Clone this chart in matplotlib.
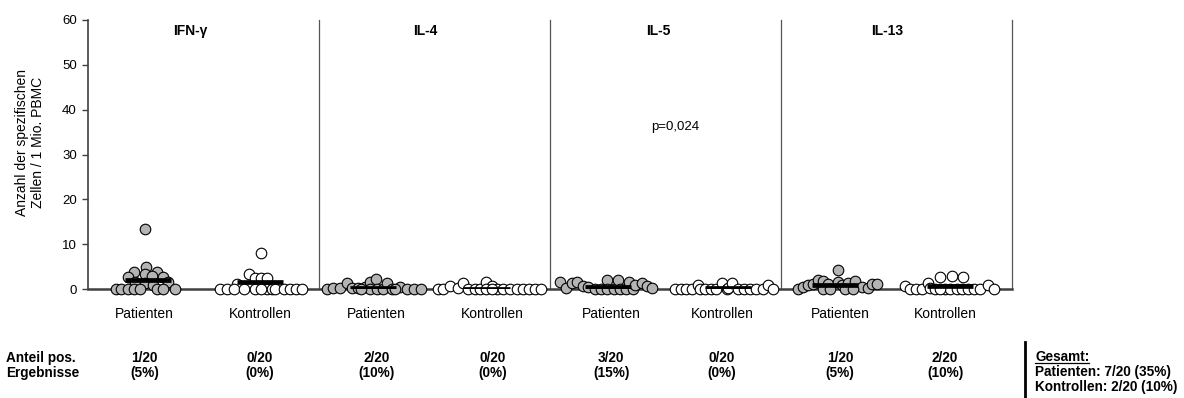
import matplotlib.pyplot as plt
from matplotlib.lines import Line2D

plt.rcParams['font.family'] = ['Liberation Sans', 'DejaVu Sans']

# Zytokine und Gruppen
zytokine = ["IFN-γ", "IL-4", "IL-5", "IL-13"]
gruppen = ["Patienten", "Kontrollen"]

# Einzelwerte (Spots / 1 Mio. PBMC), x = Streuposition im Dotplot
ifn_pat_x = [0.49, 0.50, 0.40, 0.60, 0.49, 0.55, 0.35, 0.65, 0.41, 0.49,
             0.56, 0.69, 0.24, 0.29, 0.35, 0.40, 0.45, 0.60, 0.65, 0.75]
ifn_pat_y = [13.3, 5.0, 3.7, 3.7, 3.4, 2.9, 2.7, 2.7, 1.6, 1.3,
             1.0, 1.6, 0, 0, 0, 0, 0, 0, 0, 0]
ifn_kon_x = [1.50, 1.39, 1.45, 1.50, 1.55, 1.29, 1.64, 1.14, 1.20, 1.26,
             1.35, 1.45, 1.55, 1.59, 1.62, 1.70, 1.75, 1.80, 1.85, 1.50]
ifn_kon_y = [8.0, 3.3, 2.5, 2.5, 2.5, 1.1, 0.5, 0, 0, 0,
             0, 0, 0, 0, 0, 0, 0, 0, 0, 0]

il4_pat_x = [2.07, 2.12, 2.18, 2.24, 2.29, 2.34, 2.40, 2.44, 2.49, 2.44,
             2.50, 2.55, 2.59, 2.63, 2.70, 2.76, 2.82, 2.88, 2.36, 2.66]
il4_pat_y = [0, 0.2, 0.3, 1.3, 0.2, 0.2, 0.5, 1.6, 2.2, 0,
             0, 0, 1.3, 0, 0.5, 0, 0, 0, 0, 0]
il4_kon_x = [3.03, 3.07, 3.13, 3.20, 3.25, 3.29, 3.35, 3.39, 3.45, 3.50,
             3.54, 3.59, 3.65, 3.71, 3.77, 3.82, 3.87, 3.92, 3.45, 3.50]
il4_kon_y = [0, 0, 0.6, 0.3, 1.3, 0, 0, 0, 1.6, 0.7,
             0, 0, 0, 0, 0, 0, 0, 0, 0, 0]

il5_pat_x = [4.09, 4.14, 4.19, 4.23, 4.29, 4.33, 4.39, 4.44, 4.49, 4.49,
             4.55, 4.59, 4.61, 4.66, 4.68, 4.72, 4.74, 4.80, 4.84, 4.88]
il5_pat_y = [1.6, 0.2, 1.3, 1.6, 0.6, 0.5, 0, 0, 2.0, 0,
             0, 2.0, 0, 0, 1.6, 0, 0.9, 1.3, 0.7, 0.2]
il5_kon_x = [5.08, 5.13, 5.18, 5.23, 5.28, 5.30, 5.34, 5.39, 5.44, 5.49,
             5.53, 5.54, 5.58, 5.63, 5.68, 5.73, 5.78, 5.84, 5.89, 5.93]
il5_kon_y = [0, 0, 0, 0.1, 0.8, 0, 0, 0, 0, 1.3,
             0, 0.3, 1.3, 0, 0, 0, 0, 0, 0.8, 0]

il13_pat_x = [6.15, 6.19, 6.23, 6.28, 6.32, 6.36, 6.41, 6.49, 6.49, 6.53,
              6.58, 6.64, 6.70, 6.75, 6.79, 6.83, 6.36, 6.42, 6.55, 6.62]
il13_pat_y = [0, 0.5, 0.8, 1.2, 2.0, 1.8, 1.2, 4.2, 1.5, 0.9,
              1.4, 1.8, 0.4, 0.2, 1.1, 1.1, 0, 0, 0, 0]
il13_kon_x = [7.07, 7.12, 7.17, 7.22, 7.27, 7.29, 7.33, 7.38, 7.42, 7.46,
              7.48, 7.52, 7.57, 7.58, 7.62, 7.67, 7.72, 7.79, 7.84, 7.38]
il13_kon_y = [0.6, 0, 0, 0, 1.3, 0.2, 0, 2.6, 0, 0,
              3.0, 0, 0, 2.6, 0, 0, 0, 0.8, 0, 0]

# Mediane je Gruppe
median_pat = [2.0, 0.3, 0.5, 1.0]
median_kon = [1.5, 0.1, 0.3, 0.6]
median_pat_von = [0.32, 2.27, 4.30, 6.27]
median_kon_von = [1.29, 3.25, 5.34, 7.26]
median_breite = 0.40

# Beschriftung unten: positive Ergebnisse je Gruppe
tick_pos = [0.49, 1.49, 2.50, 3.50, 4.53, 5.49, 6.51, 7.42]
positiv = [1, 0, 2, 0, 3, 0, 1, 2]
prozent = [5, 0, 10, 0, 15, 0, 5, 10]
titel_pos = [0.89, 2.92, 4.94, 6.92]

pat_x = [ifn_pat_x, il4_pat_x, il5_pat_x, il13_pat_x]
pat_y = [ifn_pat_y, il4_pat_y, il5_pat_y, il13_pat_y]
kon_x = [ifn_kon_x, il4_kon_x, il5_kon_x, il13_kon_x]
kon_y = [ifn_kon_y, il4_kon_y, il5_kon_y, il13_kon_y]

fig = plt.figure(figsize=(11.84, 3.98), dpi=100)
ax = fig.add_axes([88 / 1184, 1 - 289 / 398, 924 / 1184, 269 / 398])

dunkel = "#404040"
for i in range(4):
    ax.scatter(pat_x[i], pat_y[i], s=58, facecolor="#b4b4b4", edgecolor="black",
               linewidth=0.8, zorder=3, clip_on=False)
    ax.scatter(kon_x[i], kon_y[i], s=58, facecolor="white", edgecolor="black",
               linewidth=0.8, zorder=3, clip_on=False)
    ax.plot([median_pat_von[i], median_pat_von[i] + median_breite],
            [median_pat[i]] * 2, color="black", lw=3.4, zorder=4,
            solid_capstyle="butt")
    ax.plot([median_kon_von[i], median_kon_von[i] + median_breite],
            [median_kon[i]] * 2, color="black", lw=3.4, zorder=4,
            solid_capstyle="butt")
    ax.axvline(2 * (i + 1), ymin=0, ymax=1, color="#555555", lw=0.9, zorder=1,
               clip_on=False)
    ax.text(titel_pos[i], 57.5, zytokine[i], ha="center", va="center",
            fontsize=10, fontweight="bold")

ax.text(5.08, 36.2, "p=0,024", ha="center", va="center", fontsize=9.5)

ax.set_xlim(0, 8)
ax.set_ylim(0, 60)
ax.set_yticks(range(0, 61, 10))
ax.tick_params(axis="y", labelsize=9.5, length=4, color=dunkel, width=1, pad=4)
ax.set_xticks(tick_pos)
ax.set_xticklabels(gruppen * 4, fontsize=10)
ax.tick_params(axis="x", length=0, pad=13)

for s in ["top", "right"]:
    ax.spines[s].set_visible(False)
ax.spines["left"].set_color(dunkel)
ax.spines["left"].set_linewidth(1.2)
ax.spines["bottom"].set_color(dunkel)
ax.spines["bottom"].set_linewidth(1.8)
ax.spines["bottom"].set_zorder(2)

fig.text(30 / 1184, 1 - 142 / 398, "Anzahl der spezifischen\nZellen / 1 Mio. PBMC",
         rotation=90, ha="center", va="center", ma="center", fontsize=10)

# Anteil positiver Ergebnisse (Grundlinien in Pixel von oben)
zeile1 = 1 - 362 / 398
zeile2 = 1 - 377 / 398
fett = dict(fontsize=9.8, fontweight="bold", va="baseline")
for x, n, p in zip(tick_pos, positiv, prozent):
    xf = fig.transFigure.inverted().transform(ax.transData.transform((x, 0)))[0]
    fig.text(xf, zeile1, f"{n}/20", ha="center", **fett)
    fig.text(xf, zeile2, f"({p}%)", ha="center", **fett)
fig.text(6 / 1184, zeile1, "Anteil pos.", ha="left", **fett)
fig.text(6 / 1184, zeile2, "Ergebnisse", ha="left", **fett)

# Gesamtübersicht rechts
fig.add_artist(Line2D([1025 / 1184] * 2, [1 - 342 / 398, 1 - 397 / 398],
                      color="black", lw=2))
gesamt = fig.text(1035 / 1184, 1 - 361 / 398, "Gesamt:", ha="left", **fett)
fig.text(1035 / 1184, 1 - 376 / 398, "Patienten: 7/20 (35%)", ha="left", **fett)
fig.text(1035 / 1184, 1 - 390.5 / 398, "Kontrollen: 2/20 (10%)", ha="left", **fett)

fig.canvas.draw()
bb = gesamt.get_window_extent().transformed(fig.transFigure.inverted())
fig.add_artist(Line2D([bb.x0, bb.x1], [1 - 363 / 398] * 2, color="black", lw=0.9))

fig.savefig("out.png", dpi=100)
